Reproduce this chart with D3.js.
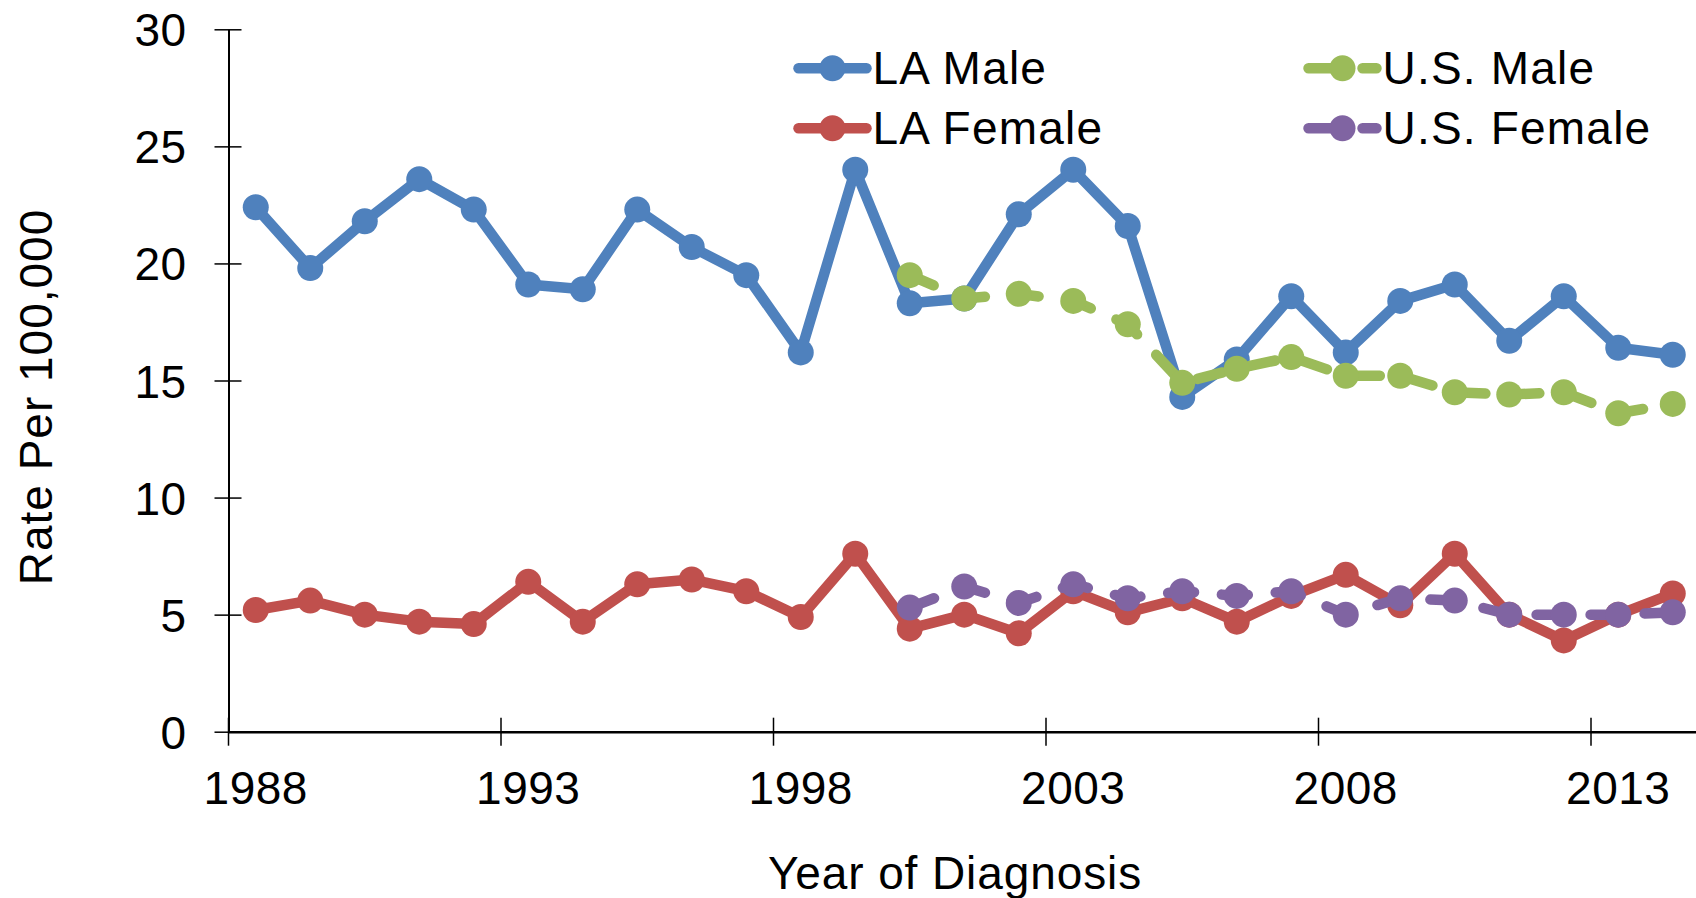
<!DOCTYPE html>
<html>
<head>
<meta charset="utf-8">
<script src="https://cdn.jsdelivr.net/npm/d3@7"></script>
<style>
  body { margin: 0; background: #ffffff; }
  svg text { font-family: "Liberation Sans", Arial, sans-serif; fill: #000; }
</style>
</head>
<body>
<script>
// Categories (years of diagnosis)
var years = [1988, 1989, 1990, 1991, 1992, 1993, 1994, 1995, 1996, 1997, 1998, 1999, 2000,
  2001, 2002, 2003, 2004, 2005, 2006, 2007, 2008, 2009, 2010, 2011, 2012, 2013, 2014];
var usYears = [2000, 2001, 2002, 2003, 2004, 2005, 2006, 2007, 2008, 2009, 2010, 2011, 2012, 2013, 2014];

// Rates per 100,000
var laMale = [22.4, 19.8, 21.8, 23.6, 22.3, 19.1, 18.9, 22.3, 20.7, 19.5, 16.2, 24.0, 18.3,
  18.5, 22.1, 24.0, 21.6, 14.3, 15.9, 18.6, 16.2, 18.4, 19.1, 16.7, 18.6, 16.4, 16.1];
var laFemale = [5.2, 5.6, 5.0, 4.7, 4.6, 6.4, 4.7, 6.3, 6.5, 6.0, 4.9, 7.6, 4.4,
  5.0, 4.2, 6.0, 5.1, 5.7, 4.7, 5.8, 6.7, 5.4, 7.6, 5.0, 3.9, 5.0, 5.9];
var usMale = [19.5, 18.5, 18.7, 18.4, 17.4, 14.9, 15.5, 16.0, 15.2, 15.2, 14.5, 14.4, 14.5, 13.6, 14.0];
var usFemale = [5.3, 6.2, 5.5, 6.3, 5.7, 6.0, 5.8, 6.0, 5.0, 5.7, 5.6, 5.0, 5.0, 5.0, 5.1];

var yTicks = [0, 5, 10, 15, 20, 25, 30];
var xLabelYears = [1988, 1993, 1998, 2003, 2008, 2013];

// SVG area
var svgWidth = 1696;
var svgHeight = 898;

var plotLeft = 228.5;
var bandW = 54.5;
var plotBottom = 731.7;
var plotTop = 29.3;

var svg = d3.select("body")
  .append("svg")
  .attr("width", svgWidth)
  .attr("height", svgHeight);

// Scales
var xScale = d3.scaleBand()
  .domain(years)
  .range([plotLeft, plotLeft + bandW * years.length]);

var yScale = d3.scaleLinear()
  .domain([0, 30])
  .range([plotBottom, plotTop]);

var xc = function(yr) { return xScale(yr) + xScale.bandwidth() / 2; };

// Y axis
var leftAxis = d3.axisLeft(yScale)
  .tickValues(yTicks)
  .tickSize(14)
  .tickSizeOuter(0)
  .tickPadding(28);

var yAxisG = svg.append("g")
  .attr("transform", `translate(${plotLeft}, 0)`)
  .call(leftAxis);
yAxisG.select(".domain").attr("stroke", "#000").attr("stroke-width", 2);
yAxisG.selectAll(".tick line").attr("x1", 13).attr("stroke", "#000").attr("stroke-width", 1.5);
yAxisG.selectAll(".tick text")
  .attr("font-size", 46)
  .attr("dy", "0.36em")
  .style("letter-spacing", "0.4px")
  .style("font-family", '"Liberation Sans", Arial, sans-serif');

// X axis: labels centred on categories, tick marks on category boundaries
var bottomAxis = d3.axisBottom(xScale)
  .tickValues(xLabelYears)
  .tickSize(0)
  .tickSizeOuter(0)
  .tickPadding(40);

var xAxisG = svg.append("g")
  .attr("transform", `translate(0, ${plotBottom})`)
  .call(bottomAxis);
xAxisG.select(".domain").attr("stroke", "#000").attr("stroke-width", 2.5);
xAxisG.selectAll(".tick line").remove();
xAxisG.selectAll(".tick text")
  .attr("font-size", 46)
  .style("letter-spacing", "0.5px")
  .style("font-family", '"Liberation Sans", Arial, sans-serif');

xAxisG.selectAll(".boundary")
  .data(xLabelYears)
  .enter()
  .append("line")
  .attr("class", "boundary")
  .attr("x1", d => xScale(d))
  .attr("x2", d => xScale(d))
  .attr("y1", -14)
  .attr("y2", 14)
  .attr("stroke", "#000")
  .attr("stroke-width", 1.5);

// Axis titles
svg.append("text")
  .attr("transform", "translate(52, 397) rotate(-90)")
  .attr("text-anchor", "middle")
  .attr("font-size", 46)
  .style("letter-spacing", "1px")
  .text("Rate Per 100,000");

svg.append("text")
  .attr("x", 955)
  .attr("y", 889)
  .attr("text-anchor", "middle")
  .attr("font-size", 46)
  .style("letter-spacing", "0.9px")
  .text("Year of Diagnosis");

// Series
var lineW = 10.5;
var markerR = 13;
var dashPattern = "26 28";

var series = [
  { name: "LA Male", color: "#4F81BD", dashed: false, xs: years, ys: laMale },
  { name: "LA Female", color: "#C0504D", dashed: false, xs: years, ys: laFemale },
  { name: "U.S. Male", color: "#9BBB59", dashed: true, xs: usYears, ys: usMale },
  { name: "U.S. Female", color: "#8064A2", dashed: true, xs: usYears, ys: usFemale }
];

var drawLine = d3.line()
  .x(d => xc(d[0]))
  .y(d => yScale(d[1]));

series.forEach(function(s) {
  var pts = s.xs.map((yr, i) => [yr, s.ys[i]]);
  var g = svg.append("g");

  g.append("path")
    .attr("d", drawLine(pts))
    .attr("fill", "none")
    .attr("stroke", s.color)
    .attr("stroke-width", lineW)
    .attr("stroke-linecap", "round")
    .attr("stroke-linejoin", "round")
    .attr("stroke-dasharray", s.dashed ? dashPattern : null);

  g.selectAll("circle")
    .data(pts)
    .enter()
    .append("circle")
    .attr("cx", d => xc(d[0]))
    .attr("cy", d => yScale(d[1]))
    .attr("r", markerR)
    .attr("fill", s.color);
});

// Legend (two columns, two rows)
var legendCols = [798.5, 1308.5];
var legendRows = [68.3, 128.3];
var swatchLen = 68;

series.forEach(function(s, i) {
  var lx = legendCols[s.dashed ? 1 : 0];
  var ly = legendRows[i % 2];
  var g = svg.append("g");

  g.append("line")
    .attr("x1", lx)
    .attr("x2", lx + swatchLen)
    .attr("y1", ly)
    .attr("y2", ly)
    .attr("stroke", s.color)
    .attr("stroke-width", lineW)
    .attr("stroke-linecap", "round")
    .attr("stroke-dasharray", s.dashed ? dashPattern : null);

  g.append("circle")
    .attr("cx", lx + swatchLen / 2)
    .attr("cy", ly)
    .attr("r", markerR)
    .attr("fill", s.color);

  g.append("text")
    .attr("x", lx + swatchLen + 6)
    .attr("y", ly + 15.5)
    .attr("font-size", 46)
    .style("letter-spacing", "1.2px")
    .text(s.name);
});
</script>
</body>
</html>
